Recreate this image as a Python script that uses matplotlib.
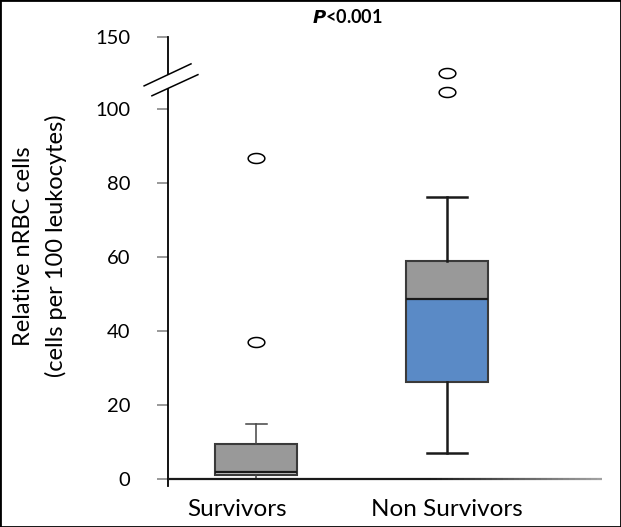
import numpy as np
import matplotlib
matplotlib.use("Agg")
import matplotlib.pyplot as plt
from matplotlib.path import Path
from matplotlib.patches import Rectangle
from matplotlib.collections import LineCollection
import matplotlib.transforms as mtransforms

plt.rcParams['font.family'] = ['Lato', 'DejaVu Sans']

# ---- data ----
categories = ["Survivors", "Non Survivors"]
whisker_low = [0.0, 7.1]
q1 = [1.2, 26.3]
median = [2.0, 48.7]
q3 = [9.6, 58.8]
whisker_high = [15.0, 76.1]
outliers = [[37.0, 86.9], [112.0, 125.0]]
yticks = [0, 20, 40, 60, 80, 100, 150]
title_text = r"$\bfit{P}$<0.001"

upper_color = "#999999"
lower_colors = ["#cdcdcd", "#5a8ac6"]

# broken-axis scale: above 100 compressed
BREAK = 100.0
COMP = 0.39


def fwd(y):
    y = np.asarray(y, dtype=float)
    return np.where(y <= BREAK, y, BREAK + (y - BREAK) * COMP)


def inv(y):
    y = np.asarray(y, dtype=float)
    return np.where(y <= BREAK, y, BREAK + (y - BREAK) / COMP)


fig = plt.figure(figsize=(6.21, 5.27), dpi=100)
ax = fig.add_axes([0.2705, 0.077, 0.699, 0.853])
ax.set_yscale('function', functions=(fwd, inv))

positions = np.arange(1, len(categories) + 1)
box_w = 0.43

# box halves
for i, p in enumerate(positions):
    ax.bar(p, q3[i] - median[i], bottom=median[i], width=box_w,
           color=upper_color, edgecolor='none', zorder=1)
    ax.bar(p, median[i] - q1[i], bottom=q1[i], width=box_w,
           color=lower_colors[i], edgecolor='none', zorder=1)

stats = []
for i, c in enumerate(categories):
    stats.append(dict(label=c, whislo=whisker_low[i], q1=q1[i], med=median[i],
                      q3=q3[i], whishi=whisker_high[i], fliers=outliers[i]))

theta = np.linspace(0, 2 * np.pi, 60)
ell = Path(np.column_stack([np.cos(theta) * 1.0, np.sin(theta) * 0.6]), closed=True)

bp = ax.bxp(stats, positions=positions, widths=box_w, capwidths=[0.11, 0.21],
            patch_artist=True,
            boxprops=dict(facecolor='none', edgecolor='#3a3a3a', linewidth=1.5),
            medianprops=dict(color='#1a1a1a', linewidth=1.6),
            whiskerprops=dict(color='#1a1a1a', linewidth=1.8),
            capprops=dict(color='#1a1a1a', linewidth=1.8),
            flierprops=dict(marker=ell, markersize=12, markerfacecolor='none',
                            markeredgecolor='black', markeredgewidth=1.1,
                            linestyle='none'),
            manage_ticks=False, zorder=2)
# thinner whiskers for survivors
for art in bp['whiskers'][:2] + bp['caps'][:2]:
    art.set_linewidth(1.1)
    art.set_color('#444444')

ax.set_xlim(0.539, 2.81)
ax.set_ylim(-2, 150)

ax.set_yticks(yticks)
ax.set_yticklabels([str(t) for t in yticks], fontsize=14.5)
ax.tick_params(axis='y', length=8, width=1.2, color='#888888', pad=19)
ax.set_xticks(positions)
ax.set_xticklabels(categories, fontsize=17.5)
ax.tick_params(axis='x', length=0, pad=9)
lbl = ax.get_xticklabels()[0]
lbl.set_transform(lbl.get_transform() + mtransforms.ScaledTranslation(-0.19, 0, fig.dpi_scale_trans))

for s in ax.spines.values():
    s.set_visible(False)

# left spine with break
kw = dict(transform=ax.transAxes, color='black', lw=1.3, clip_on=False)
ax.plot([0, 0], [0, 0.884], **kw)
ax.plot([0, 0], [0.918, 1.0], **kw)
ax.plot([-0.055, 0.053], [0.891, 0.940], color='black', lw=1.1,
        transform=ax.transAxes, clip_on=False)
ax.plot([-0.037, 0.069], [0.869, 0.916], color='black', lw=1.1,
        transform=ax.transAxes, clip_on=False)

# bottom axis line with fading gradient
btrans = mtransforms.blended_transform_factory(ax.transAxes, ax.transData)
xs = np.linspace(-0.003, 1.0, 80)
segs = [[(xs[k], 0), (xs[k + 1], 0)] for k in range(len(xs) - 1)]
fade = np.clip((xs[:-1] - 0.6) / 0.4, 0, 1)
cols = [(0.1 + 0.55 * f, 0.1 + 0.55 * f, 0.1 + 0.55 * f) for f in fade]
lc = LineCollection(segs, colors=cols, linewidths=1.6, transform=btrans, zorder=3)
ax.add_collection(lc)

ax.set_ylabel("Relative nRBC cells\n(cells per 100 leukocytes)", fontsize=17,
              linespacing=1.6)
ax.yaxis.set_label_coords(-0.232, 0.535)

fig.text(0.559, 0.967, title_text, ha='center', va='center', fontsize=13,
         fontweight='bold')

fig.patches.append(Rectangle((0, 0), 1, 1, transform=fig.transFigure, fill=False,
                             edgecolor='black', linewidth=2))

fig.savefig("out.png", dpi=100)
